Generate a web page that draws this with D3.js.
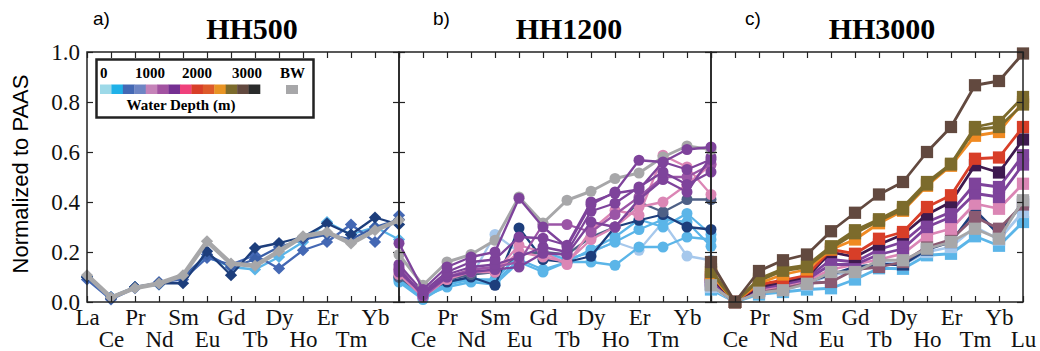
<!DOCTYPE html>
<html>
<head>
<meta charset="utf-8">
<script src="https://cdn.jsdelivr.net/npm/d3@7"></script>
<style>
  body { margin: 0; background: #fff; }
  svg { display: block; }
</style>
</head>
<body>
<svg id="canvas"></svg>
<script>
const WIDTH = 1040;
const HEIGHT = 351;

// rare earth elements (x categories) and y ticks
const ree = ["La", "Ce", "Pr", "Nd", "Sm", "Eu", "Gd", "Tb", "Dy", "Ho", "Er", "Tm", "Yb", "Lu"];
const yTicks = [0, 0.2, 0.4, 0.6, 0.8, 1.0];

// legend
const depthLabels = ["0", "1000", "2000", "3000"];
const depthColors = ["#9dd9e8", "#1fb1e8", "#4468b4", "#6e85c4", "#c583b9", "#a252a1", "#753092",
  "#ef417b", "#d83e28", "#dd5a2a", "#e89424", "#7c6b2c", "#62493f", "#2a2b2b"];

// HH500 (diamonds)
const hh500Sky   = [0.10, 0.02, 0.06, 0.07, 0.10, 0.18, 0.14, 0.13, 0.18, 0.24, 0.32, 0.27, 0.30, 0.25];
const hh500Blue  = [0.09, 0.01, 0.055, 0.08, 0.09, 0.176, 0.15, 0.187, 0.134, 0.207, 0.24, 0.31, 0.24, 0.347];
const hh500Mid   = [0.10, 0.02, 0.06, 0.07, 0.10, 0.19, 0.14, 0.17, 0.22, 0.25, 0.27, 0.25, 0.30, 0.33];
const hh500Navy  = [0.10, 0.015, 0.06, 0.075, 0.075, 0.203, 0.107, 0.216, 0.236, 0.26, 0.314, 0.27, 0.338, 0.31];
const hh500BW    = [0.107, 0.018, 0.056, 0.074, 0.107, 0.243, 0.154, 0.145, 0.203, 0.263, 0.28, 0.234, 0.287, 0.327];

// HH1200 (circles)
const hh1200Pale    = [0.10, 0.02, 0.08, 0.10, 0.27, 0.20, 0.19, 0.17, 0.20, 0.24, 0.207, 0.32, 0.184, 0.167];
const hh1200SkyC    = [0.09, 0.02, 0.06, 0.08, 0.07, 0.16, 0.12, 0.16, 0.16, 0.147, 0.22, 0.22, 0.26, 0.25];
const hh1200SkyB    = [0.08, 0.01, 0.07, 0.09, 0.09, 0.19, 0.20, 0.17, 0.20, 0.24, 0.29, 0.33, 0.32, 0.223];
const hh1200SkyA    = [0.09, 0.015, 0.08, 0.09, 0.08, 0.17, 0.13, 0.16, 0.21, 0.26, 0.33, 0.30, 0.354, 0.27];
const hh1200Navy    = [0.10, 0.04, 0.08, 0.10, 0.067, 0.296, 0.17, 0.16, 0.183, 0.30, 0.327, 0.35, 0.30, 0.29];
const hh1200Slate   = [0.10, 0.03, 0.09, 0.11, 0.12, 0.19, 0.20, 0.19, 0.26, 0.30, 0.40, 0.36, 0.41, 0.41];
const hh1200PinkB   = [0.11, 0.02, 0.09, 0.12, 0.12, 0.20, 0.18, 0.16, 0.25, 0.30, 0.38, 0.40, 0.47, 0.55];
const hh1200PinkA   = [0.13, 0.03, 0.10, 0.13, 0.12, 0.227, 0.20, 0.15, 0.287, 0.367, 0.347, 0.587, 0.54, 0.43];
const hh1200Lilac   = [0.14, 0.02, 0.10, 0.13, 0.14, 0.16, 0.31, 0.31, 0.28, 0.35, 0.42, 0.50, 0.50, 0.55];
const hh1200PurpleD = [0.12, 0.03, 0.10, 0.12, 0.13, 0.14, 0.195, 0.19, 0.32, 0.30, 0.41, 0.49, 0.44, 0.58];
const hh1200PurpleC = [0.13, 0.03, 0.11, 0.14, 0.15, 0.18, 0.22, 0.20, 0.363, 0.395, 0.46, 0.52, 0.47, 0.52];
const hh1200PurpleB = [0.15, 0.04, 0.12, 0.16, 0.17, 0.26, 0.255, 0.227, 0.40, 0.435, 0.45, 0.56, 0.53, 0.57];
const hh1200PurpleA = [0.235, 0.05, 0.14, 0.18, 0.20, 0.415, 0.30, 0.22, 0.39, 0.44, 0.567, 0.56, 0.61, 0.62];
const hh1200BW      = [0.19, 0.067, 0.16, 0.19, 0.247, 0.42, 0.316, 0.407, 0.443, 0.494, 0.516, 0.58, 0.624, 0.61];

// HH3000 (squares)
const hh3000Sky     = [0.05, 0.0, 0.03, 0.04, 0.05, 0.055, 0.09, 0.135, 0.133, 0.187, 0.193, 0.263, 0.225, 0.32];
const hh3000Pale    = [0.06, 0.0, 0.04, 0.05, 0.07, 0.11, 0.12, 0.16, 0.15, 0.20, 0.22, 0.30, 0.25, 0.36];
const hh3000Mauve   = [0.07, 0.0, 0.045, 0.055, 0.075, 0.08, 0.13, 0.14, 0.16, 0.22, 0.25, 0.34, 0.293, 0.39];
const hh3000Navy    = [0.07, 0.0, 0.045, 0.06, 0.08, 0.11, 0.14, 0.15, 0.15, 0.21, 0.24, 0.367, 0.27, 0.40];
const hh3000Pink    = [0.08, 0.0, 0.05, 0.065, 0.085, 0.13, 0.15, 0.17, 0.193, 0.267, 0.293, 0.393, 0.373, 0.473];
const hh3000PurpleB = [0.085, 0.0, 0.055, 0.07, 0.09, 0.15, 0.15, 0.19, 0.213, 0.30, 0.34, 0.434, 0.42, 0.55];
const hh3000PurpleA = [0.09, 0.0, 0.06, 0.075, 0.095, 0.17, 0.16, 0.21, 0.24, 0.32, 0.36, 0.473, 0.46, 0.587];
const hh3000DarkPur = [0.10, 0.0, 0.06, 0.08, 0.10, 0.20, 0.18, 0.23, 0.27, 0.35, 0.40, 0.547, 0.518, 0.65];
const hh3000Red     = [0.11, 0.0, 0.07, 0.087, 0.107, 0.21, 0.193, 0.253, 0.28, 0.38, 0.427, 0.573, 0.578, 0.70];
const hh3000Orange  = [0.11, 0.0, 0.075, 0.11, 0.13, 0.21, 0.25, 0.315, 0.365, 0.465, 0.545, 0.665, 0.68, 0.80];
const hh3000Olive2  = [0.12, 0.0, 0.085, 0.125, 0.14, 0.215, 0.275, 0.325, 0.37, 0.47, 0.55, 0.69, 0.70, 0.79];
const hh3000Olive   = [0.13, 0.0, 0.093, 0.133, 0.147, 0.223, 0.287, 0.331, 0.38, 0.48, 0.553, 0.70, 0.72, 0.82];
const hh3000Brown   = [0.16, 0.0, 0.124, 0.167, 0.19, 0.283, 0.357, 0.43, 0.48, 0.60, 0.70, 0.867, 0.884, 0.994];
const hh3000BW      = [0.067, 0.0, 0.037, 0.047, 0.073, 0.12, 0.12, 0.167, 0.167, 0.213, 0.24, 0.293, 0.253, 0.407];

const GREY = "#a7a7a9";

const panels = [
  {
    tag: "a)", title: "HH500", x0: 87, x1: 399, tagX: 93, titleX: 252, marker: "diamond",
    labels: ree.slice(0, 13),
    series: [
      { values: hh500Sky, color: "#5bb5e8" },
      { values: hh500Blue, color: "#4468b4" },
      { values: hh500Mid, color: "#3a5fa8" },
      { values: hh500Navy, color: "#1d3e7c" },
      { values: hh500BW, color: GREY, width: 4.5 },
    ],
  },
  {
    tag: "b)", title: "HH1200", x0: 399, x1: 711, tagX: 433, titleX: 569, marker: "circle",
    labels: ree.slice(1, 13),
    series: [
      { values: hh1200Pale, color: "#a6c8ec" },
      { values: hh1200SkyC, color: "#5bb5e8" },
      { values: hh1200SkyB, color: "#5bb5e8" },
      { values: hh1200SkyA, color: "#5bb5e8" },
      { values: hh1200Navy, color: "#1d3e7c" },
      { values: hh1200Slate, color: "#4e6086" },
      { values: hh1200PinkB, color: "#db86b5" },
      { values: hh1200PinkA, color: "#db86b5" },
      { values: hh1200Lilac, color: "#9b55a6" },
      { values: hh1200PurpleD, color: "#7e439b" },
      { values: hh1200PurpleC, color: "#7e439b" },
      { values: hh1200PurpleB, color: "#7e439b" },
      { values: hh1200BW, color: GREY, width: 3 },
      { values: hh1200PurpleA, color: "#7e439b" },
    ],
  },
  {
    tag: "c)", title: "HH3000", x0: 711, x1: 1023, tagX: 745, titleX: 882, marker: "square",
    labels: ree.slice(1),
    series: [
      { values: hh3000Sky, color: "#5bb5e8" },
      { values: hh3000Pale, color: "#a6c8ec" },
      { values: hh3000Navy, color: "#1d3e7c" },
      { values: hh3000Mauve, color: "#8a5a72" },
      { values: hh3000Pink, color: "#db86b5" },
      { values: hh3000PurpleB, color: "#7e439b" },
      { values: hh3000PurpleA, color: "#7e439b" },
      { values: hh3000DarkPur, color: "#3e1a4f" },
      { values: hh3000Red, color: "#d83e28" },
      { values: hh3000Orange, color: "#f08a22" },
      { values: hh3000Olive2, color: "#7c6b2c" },
      { values: hh3000Olive, color: "#7c6b2c" },
      { values: hh3000BW, color: GREY },
      { values: hh3000Brown, color: "#62493f" },
    ],
  },
];

const Y0 = 302;
const Y1 = 52;

const svg = d3.select("#canvas").attr("width", WIDTH).attr("height", HEIGHT);

const yScale = d3.scaleLinear().domain([0, 1]).range([Y0, Y1]);

const SERIF = "'Liberation Serif', 'Times New Roman', serif";
const SANS = "'Liberation Sans', Arial, sans-serif";

const markerPath = {
  diamond: d3.symbol().type(d3.symbolSquare).size(75)(),
  circle: d3.symbol().type(d3.symbolCircle).size(95)(),
  square: d3.symbol().type(d3.symbolSquare).size(150)(),
};

const drawPanel = (p, idx) => {
  const xScale = d3.scalePoint().domain(ree).range([p.x0, p.x1]);
  const g = svg.append("g");

  // data
  const line = d3.line()
    .x((d, i) => xScale(ree[i]))
    .y((d) => yScale(d));

  p.series.forEach((s) => {
    const sg = g.append("g");
    sg.append("path")
      .attr("d", line(s.values))
      .attr("fill", "none")
      .attr("stroke", s.color)
      .attr("stroke-width", s.width || (p.marker === "square" ? 2.8 : 2.3))
      .attr("stroke-linejoin", "round");
    sg.selectAll("path.mk")
      .data(s.values)
      .enter()
      .append("path")
      .attr("class", "mk")
      .attr("d", markerPath[p.marker])
      .attr("fill", s.color)
      .attr("transform", (d, i) =>
        "translate(" + xScale(ree[i]) + "," + yScale(d) + ")" + (p.marker === "diamond" ? " rotate(45)" : ""));
  });

  // axes
  const bottom = g.append("g")
    .attr("transform", "translate(0," + Y0 + ")")
    .call(d3.axisBottom(xScale).tickSize(-6).tickSizeOuter(0)
      .tickFormat((d) => (p.labels.includes(d) ? d : "")));
  bottom.selectAll("text")
    .attr("y", (d) => (ree.indexOf(d) % 2 ? 45 : 23))
    .attr("dy", 0)
    .style("font-family", SERIF)
    .style("font-size", "23px")
    .attr("fill", "#111");

  g.append("g")
    .attr("transform", "translate(0," + Y1 + ")")
    .call(d3.axisTop(xScale).tickSize(-6).tickSizeOuter(0).tickFormat(""));

  const left = g.append("g")
    .attr("transform", "translate(" + p.x0 + ",0)")
    .call(d3.axisLeft(yScale).tickValues(yTicks).tickSize(-6).tickSizeOuter(0).tickPadding(7)
      .tickFormat(idx === 0 ? d3.format(".1f") : ""));
  left.selectAll("text")
    .style("font-family", SERIF)
    .style("font-size", "23px")
    .attr("fill", "#111");

  g.append("g")
    .attr("transform", "translate(" + p.x1 + ",0)")
    .call(d3.axisRight(yScale).tickValues(yTicks).tickSize(-6).tickSizeOuter(0).tickFormat(""));

  g.selectAll(".domain").remove();
  g.selectAll(".tick line").attr("stroke", "#222").attr("stroke-width", 1.2);

  g.append("rect")
    .attr("x", p.x0).attr("y", Y1)
    .attr("width", p.x1 - p.x0).attr("height", Y0 - Y1)
    .attr("fill", "none").attr("stroke", "#222").attr("stroke-width", 1.5);

  // titles
  svg.append("text")
    .attr("x", p.tagX).attr("y", 25)
    .style("font-family", SANS).style("font-size", "19px")
    .text(p.tag);
  svg.append("text")
    .attr("x", p.titleX).attr("y", 39)
    .attr("text-anchor", "middle")
    .style("font-family", SERIF).style("font-size", "30px").style("font-weight", "bold")
    .text(p.title);
};

panels.forEach(drawPanel);

// y axis title
svg.append("text")
  .attr("transform", "translate(28,174) rotate(-90)")
  .attr("text-anchor", "middle")
  .style("font-family", SANS).style("font-size", "22px")
  .text("Normalized to PAAS");

// legend
const lg = svg.append("g");
lg.append("rect")
  .attr("x", 96.5).attr("y", 59.5).attr("width", 217).attr("height", 58)
  .attr("fill", "#fff").attr("stroke", "#222").attr("stroke-width", 2.5);

const swatch = d3.scaleBand().domain(d3.range(depthColors.length)).range([100, 260]);
lg.selectAll("rect.sw")
  .data(depthColors)
  .enter()
  .append("rect")
  .attr("class", "sw")
  .attr("x", (d, i) => swatch(i))
  .attr("y", 84.5)
  .attr("width", swatch.bandwidth() + 0.3)
  .attr("height", 9.5)
  .attr("fill", (d) => d);
lg.append("rect")
  .attr("x", 286).attr("y", 85).attr("width", 12).attr("height", 9).attr("fill", GREY);

const depthX = [100, 135, 182, 232];
lg.selectAll("text.dl")
  .data(depthLabels)
  .enter()
  .append("text")
  .attr("class", "dl")
  .attr("x", (d, i) => depthX[i])
  .attr("y", 78)
  .style("font-family", SERIF).style("font-size", "15px").style("font-weight", "bold")
  .text((d) => d);
lg.append("text")
  .attr("x", 280).attr("y", 78)
  .style("font-family", SERIF).style("font-size", "15px").style("font-weight", "bold")
  .text("BW");
lg.append("text")
  .attr("x", 181).attr("y", 110)
  .attr("text-anchor", "middle")
  .style("font-family", SERIF).style("font-size", "15px").style("font-weight", "bold")
  .text("Water Depth (m)");
</script>
</body>
</html>
